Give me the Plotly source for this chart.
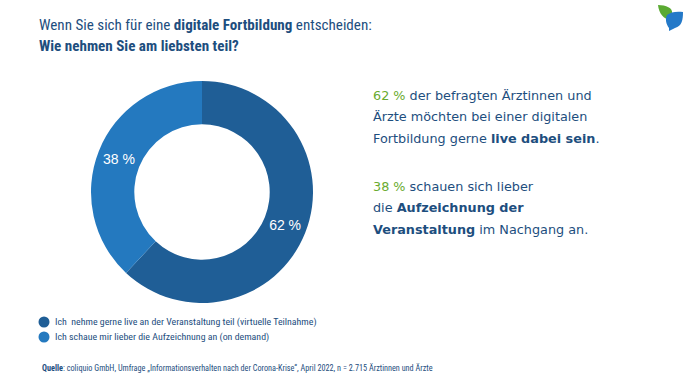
import plotly.graph_objects as go

labels = ["Ich  nehme gerne live an der Veranstaltung teil (virtuelle Teilnahme)",
          "Ich schaue mir lieber die Aufzeichnung an (on demand)"]
values = [62, 38]
slice_text = ["62 %", "38 %"]
colors = ["#1f5e96", "#2479bf"]

title_lines = ["Wenn Sie sich für eine <b>digitale Fortbildung</b> entscheiden:",
               "<b>Wie nehmen Sie am liebsten teil?</b>"]
info_lines = [
    "<span style='color:#6aab2f'>62 %</span> der befragten Ärztinnen und",
    "Ärzte möchten bei einer digitalen",
    "Fortbildung gerne <b>live dabei sein</b>.",
    "<span style='color:#6aab2f'>38 %</span> schauen sich lieber",
    "die <b>Aufzeichnung der</b>",
    "<b>Veranstaltung</b> im Nachgang an.",
]
info_y = [95, 116.5, 138, 186, 207.5, 229]
source_text = ("<b>Quelle</b>: coliquio GmbH, Umfrage „Informationsverhalten nach der Corona-Krise“, "
               "April 2022, n = 2.715 Ärztinnen und Ärzte")

W, H = 690, 383
TXT = "#1d4e7e"
NARROW = "Liberation Sans Narrow, Roboto Condensed, Arial Narrow, Liberation Sans, sans-serif"

fig = go.Figure()
cx, cy, r = 202, 192, 111
fig.add_trace(go.Pie(
    labels=labels, values=values, text=slice_text, textinfo="text",
    textposition="inside", insidetextorientation="horizontal",
    hole=0.61, sort=False, direction="clockwise", rotation=0,
    marker=dict(colors=colors, line=dict(width=0)),
    textfont=dict(color="white", size=14, family="Liberation Sans, Arial, sans-serif"),
    domain=dict(x=[(cx - r) / W, (cx + r) / W], y=[(H - cy - r) / H, (H - cy + r) / H]),
    showlegend=False, hoverinfo="label+percent",
))

# invisible pixel axes for overlays
fig.add_trace(go.Scatter(x=[0, W], y=[0, H], mode="markers", marker=dict(opacity=0),
                         showlegend=False, hoverinfo="skip"))

ann = []
for i, t in enumerate(title_lines):
    ann.append(dict(x=37, y=25 + i * 21, text=t, showarrow=False, xanchor="left", yanchor="middle",
                    xref="x", yref="y", font=dict(family=NARROW, size=15.1, color=TXT)))
for t, y in zip(info_lines, info_y):
    ann.append(dict(x=371, y=y, text=t, showarrow=False, xanchor="left", yanchor="middle",
                    xref="x", yref="y",
                    font=dict(family="DejaVu Sans, Verdana, sans-serif", size=12.8, color=TXT)))
shapes = []
for i, (lab, col) in enumerate(zip(labels, colors)):
    y = 322 + i * 15
    shapes.append(dict(type="circle", xref="x", yref="y", x0=38.5, x1=49.5, y0=y - 5.5, y1=y + 5.5,
                       fillcolor=col, line=dict(width=0)))
    ann.append(dict(x=53, y=y, text=lab, showarrow=False, xanchor="left", yanchor="middle",
                    xref="x", yref="y", font=dict(family=NARROW, size=9.9, color=TXT)))
ann.append(dict(x=40, y=368, text=source_text, showarrow=False, xanchor="left", yanchor="middle",
                xref="x", yref="y", font=dict(family=NARROW, size=8.2, color=TXT)))

# logo leaves
shapes.append(dict(type="path", xref="x", yref="y",
                   path="M 658,5 C 666,5 673,8 672,13 L 670,20 C 664,19 659,14 658,5 Z",
                   fillcolor="#5aaa32", line=dict(width=0)))
shapes.append(dict(type="path", xref="x", yref="y",
                   path="M 667,15 C 670,12 677,11 683,12 C 683,20 682,26 675,28 L 669,31 L 669,28 C 666,24 665,19 667,15 Z",
                   fillcolor="#2479c8", line=dict(width=0)))

fig.update_layout(
    width=W, height=H, margin=dict(l=0, r=0, t=0, b=0),
    paper_bgcolor="white", plot_bgcolor="rgba(0,0,0,0)",
    xaxis=dict(range=[0, W], visible=False, fixedrange=True, domain=[0, 1]),
    yaxis=dict(range=[H, 0], visible=False, fixedrange=True, domain=[0, 1]),
    annotations=ann, shapes=shapes,
)
fig.write_html("out.html", config={"displayModeBar": False},
               post_script="document.body.style.margin='0';document.body.style.overflow='hidden';")
